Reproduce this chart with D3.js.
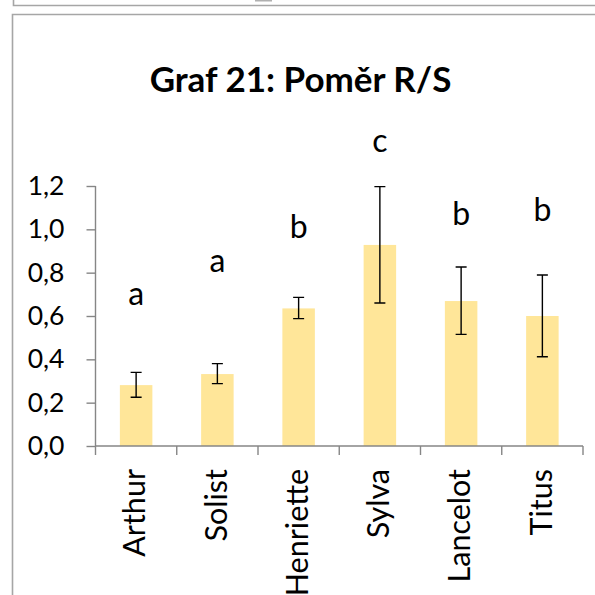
<!DOCTYPE html>
<html>
<head>
<meta charset="utf-8">
<script src="https://cdn.jsdelivr.net/npm/d3@7"></script>
<style>
  html, body { margin: 0; padding: 0; background: #fff; }
  svg { display: block; }
  text { font-family: Lato, "Open Sans", sans-serif; fill: #000; }
</style>
</head>
<body>
<script>
// ---- data ----
const categories = ["Arthur", "Solist", "Henriette", "Sylva", "Lancelot", "Titus"];
const means      = [0.281, 0.332, 0.635, 0.928, 0.669, 0.600];
const errHigh    = [0.340, 0.380, 0.686, 1.197, 0.826, 0.789];
const errLow     = [0.225, 0.288, 0.588, 0.660, 0.515, 0.412];
const groupLetters = ["a", "a", "b", "c", "b", "b"];
const letterValue  = [0.651, 0.803, 0.960, 1.356, 1.020, 1.038];
const yTicks = [0, 0.2, 0.4, 0.6, 0.8, 1.0, 1.2];
const title = "Graf 21: Poměr R/S";

const W = 595, H = 595;
const svg = d3.select("body").append("svg").attr("width", W).attr("height", H);

// frames
const frameColor = "#a6a6a6";
svg.append("path").attr("d", "M13.5,0 V5.5 H595").attr("fill", "none")
  .attr("stroke", frameColor).attr("stroke-width", 1.6);
svg.append("rect").attr("x", 255).attr("y", 0).attr("width", 17).attr("height", 1.5).attr("fill", "#b0b0b0");
svg.append("path").attr("d", "M12.5,595 V14.5 H595").attr("fill", "none")
  .attr("stroke", frameColor).attr("stroke-width", 1.6);

// scales
const y = d3.scaleLinear().domain([0, 1.2]).range([446, 186]);
const x = d3.scaleBand().domain(categories).range([95.5, 583]).paddingInner(0.6).paddingOuter(0.3);
const axisColor = "#868686";

// title
svg.append("text").attr("x", 300.5).attr("y", 92).attr("text-anchor", "middle")
  .attr("font-size", 35).attr("font-weight", "bold").text(title);

// bars
svg.append("g").selectAll("rect").data(categories).join("rect")
  .attr("x", d => x(d)).attr("width", x.bandwidth())
  .attr("y", (d, i) => y(means[i])).attr("height", (d, i) => y(0) - y(means[i]))
  .attr("fill", "#FFE699");

// y axis
const yAxis = svg.append("g").attr("transform", "translate(95.5,0)")
  .call(d3.axisLeft(y).tickValues(yTicks).tickSize(9).tickPadding(22)
    .tickFormat(d => d3.format(".1f")(d).replace(".", ",")));
yAxis.select(".domain").attr("stroke", axisColor).attr("stroke-width", 1.4)
  .attr("d", `M0,${y(1.2)} V${y(0)}`);
yAxis.selectAll(".tick line").attr("stroke", axisColor).attr("stroke-width", 1.4);
yAxis.selectAll(".tick text").attr("font-size", 26.5).attr("fill", "#000")
  .attr("font-family", "Lato, 'Open Sans', sans-serif");

// x axis
const xAxis = svg.append("g").attr("transform", `translate(0,${y(0)})`)
  .call(d3.axisBottom(x).tickSize(0).tickFormat(""));
xAxis.select(".domain").attr("stroke", axisColor).attr("stroke-width", 1.4)
  .attr("d", `M95.5,0 H583`);
const step = x.step();
const boundaries = categories.map(d => x(d) - x.paddingOuter() * step).concat([x(categories[categories.length - 1]) + x.bandwidth() + x.paddingOuter() * step]);
xAxis.selectAll(".bt").data(boundaries).join("line").attr("class", "bt")
  .attr("x1", d => d).attr("x2", d => d).attr("y1", 0).attr("y2", 9)
  .attr("stroke", axisColor).attr("stroke-width", 1.4);

// category labels
svg.append("g").selectAll("text").data(categories).join("text")
  .attr("transform", d => `translate(${x(d) + x.bandwidth() / 2},469) rotate(-90)`)
  .attr("text-anchor", "end").attr("dy", "0.3em").attr("font-size", 30.5).text(d => d);

// error bars
const cap = 5.5;
const eb = svg.append("g").attr("stroke", "#000").attr("stroke-width", 1.4).attr("fill", "none");
categories.forEach((d, i) => {
  const cx = x(d) + x.bandwidth() / 2;
  eb.append("path").attr("d",
    `M${cx},${y(errLow[i])} V${y(errHigh[i])} M${cx - cap},${y(errHigh[i])} H${cx + cap} M${cx - cap},${y(errLow[i])} H${cx + cap}`);
});

// group letters
svg.append("g").selectAll("text").data(categories).join("text")
  .attr("x", d => x(d) + x.bandwidth() / 2).attr("y", (d, i) => y(letterValue[i]))
  .attr("text-anchor", "middle").attr("font-size", 32).text((d, i) => groupLetters[i]);
</script>
</body>
</html>
